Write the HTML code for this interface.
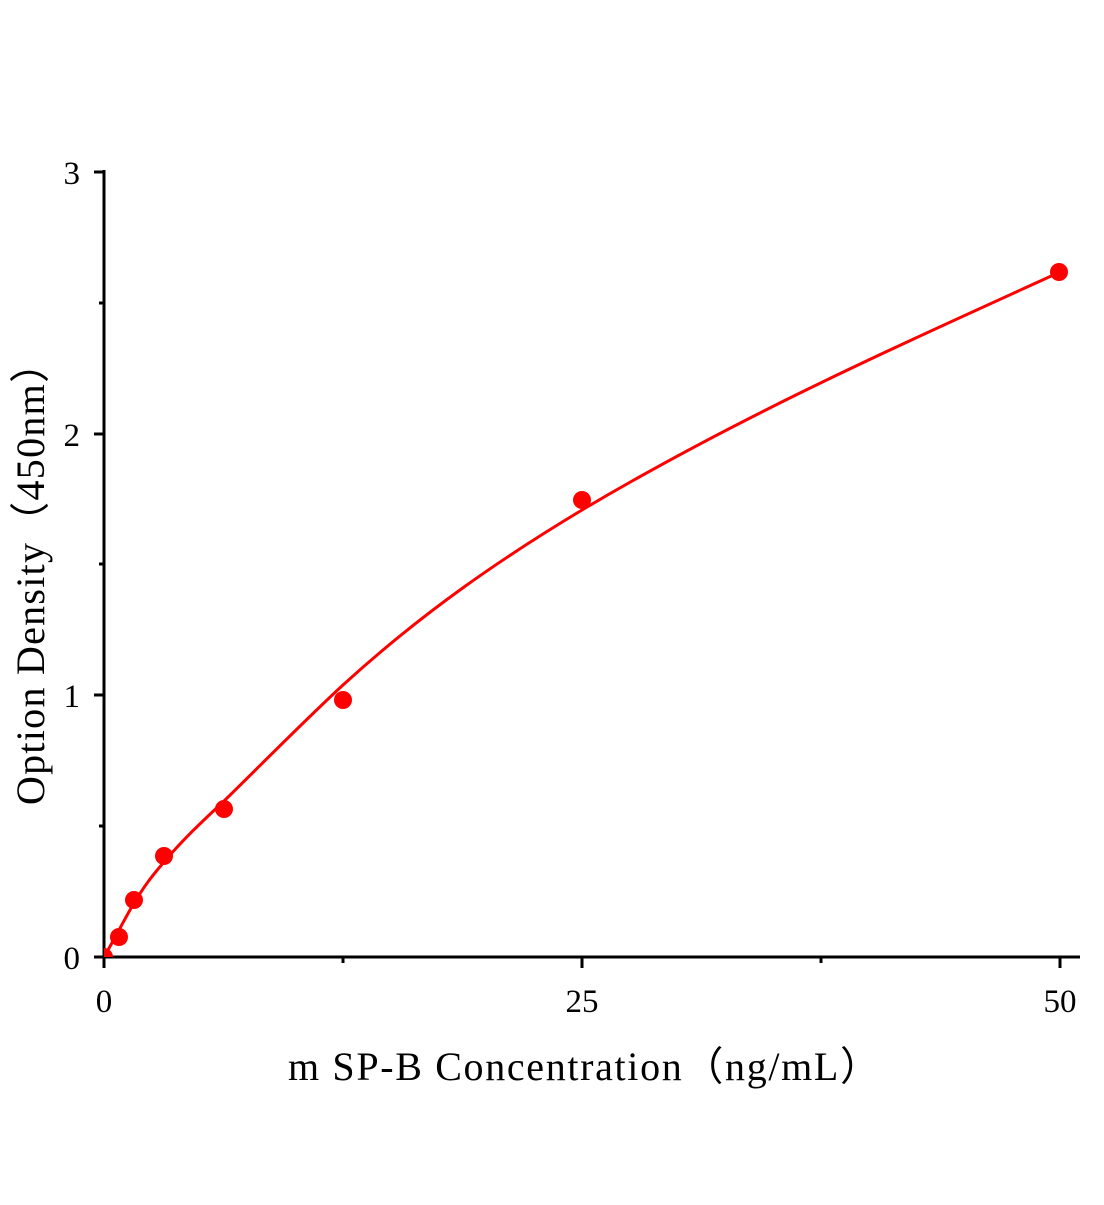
<!DOCTYPE html>
<html><head><style>
html,body{margin:0;padding:0;background:#fff;}
text{font-family:"Liberation Serif",serif;fill:#000;}
</style></head><body>
<svg width="1104" height="1200" viewBox="0 0 1104 1200" xmlns="http://www.w3.org/2000/svg">
<defs><clipPath id="c"><rect x="104" y="160" width="980" height="797"/></clipPath></defs>
<g stroke="#000" stroke-width="3" fill="none">
<line x1="104" y1="170" x2="104" y2="959"/>
<line x1="102" y1="957" x2="1080" y2="957"/>
<line x1="94" y1="172" x2="104" y2="172"/>
<line x1="94" y1="434" x2="104" y2="434"/>
<line x1="94" y1="695" x2="104" y2="695"/>
<line x1="94" y1="957" x2="104" y2="957"/>
<line x1="99" y1="303" x2="104" y2="303"/>
<line x1="99" y1="564" x2="104" y2="564"/>
<line x1="99" y1="826" x2="104" y2="826"/>
<line x1="104" y1="957" x2="104" y2="968"/>
<line x1="582" y1="957" x2="582" y2="968"/>
<line x1="1060" y1="957" x2="1060" y2="968"/>
<line x1="343" y1="957" x2="343" y2="963"/>
<line x1="821" y1="957" x2="821" y2="963"/>
</g>
<g font-size="33" text-anchor="end">
<text x="80" y="184">3</text><text x="80" y="446">2</text><text x="80" y="707">1</text><text x="80" y="969">0</text>
</g>
<g font-size="33" text-anchor="middle">
<text x="104" y="1012">0</text><text x="582" y="1012">25</text><text x="1060" y="1012">50</text>
</g>
<text x="288" y="1080" font-size="40" textLength="592" lengthAdjust="spacing" font-family="'Liberation Serif','Noto Serif CJK SC',serif">m SP-B Concentration（ng/mL）</text>
<text transform="translate(44,805) rotate(-90)" font-size="40" textLength="462" lengthAdjust="spacing" font-family="'Liberation Serif','Noto Serif CJK SC',serif">Option Density（450nm）</text>
<g clip-path="url(#c)">
<path fill="none" stroke="#f00" stroke-width="3" d="M104,957 C114,940 124,920 134,903 C145,885 152,876 164,862 C184,838 204,820 224,801 C264,762 303,722 343,685 C423,612 502,558 582,510 C742,415 900,345 1060,272"/>
<circle cx="104" cy="957" r="9" fill="#f00"/>
</g>
<g fill="#f00">
<circle cx="119" cy="937" r="9"/><circle cx="134" cy="900" r="9"/><circle cx="164" cy="856" r="9"/>
<circle cx="224" cy="809" r="9"/><circle cx="343" cy="700" r="9"/><circle cx="582" cy="500" r="9"/><circle cx="1059" cy="272" r="9"/>
</g>
</svg>
</body></html>
